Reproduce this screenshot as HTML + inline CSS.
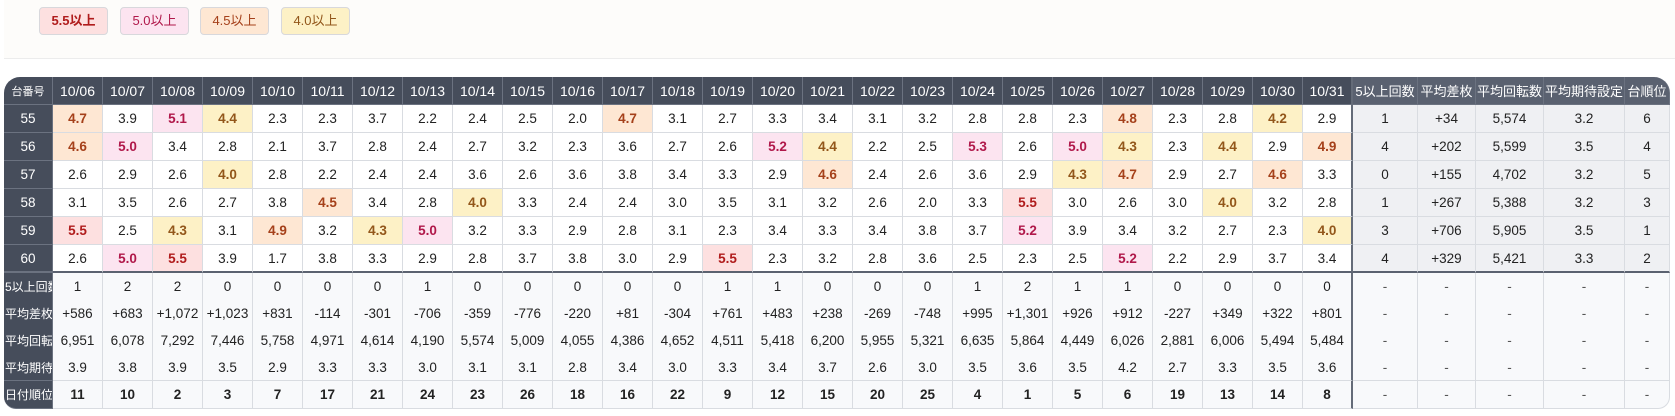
<!DOCTYPE html>
<html><head><meta charset="utf-8"><style>
*{margin:0;padding:0;box-sizing:border-box}
body{width:1675px;height:416px;background:#fff;font-family:"Liberation Sans","Noto Sans CJK JP",sans-serif;color:#222;position:relative;overflow:hidden}
.top{position:absolute;left:4px;top:0;width:1671px;height:59px;background:#fdfcfa;border-bottom:1px solid #ececec}
.b{position:absolute;top:7px;height:28px;width:69px;border:1px solid #d8d8dc;border-radius:4px;font-size:13px;font-weight:bold;text-align:center;line-height:26px}
table{position:absolute;left:4px;top:77px;width:1666px;border-collapse:separate;border-spacing:0;table-layout:fixed;font-size:13px}
td,th{text-align:center;border-right:1px solid #d9dce1;border-bottom:1px solid #d9dce1;white-space:nowrap;overflow:hidden}
th{background:#464d5b;color:#fff;font-weight:normal;height:28px;border-color:#6b7280;font-size:14px}
th.h{font-size:13px;background:#5a6170}
th:first-child{border-top-left-radius:16px;font-size:11px}
th:last-child{border-top-right-radius:16px}
tr.d td{height:28px;background:#fff;font-size:13.5px}
tr.d td:first-child{background:#464d5b;color:#fff;border-color:#6b7280}
td.s{background:#eff0f3!important}
td.k{border-right:2px solid #646b78}
tr.d6 td{border-bottom:2px solid #5b6270}
tr.m td{height:27px;background:#f8f9fb;border-bottom:none;font-size:13.5px}
tr.m td:first-child,tr.rk td:first-child{background:#464d5b;color:#fff;font-size:12px;text-align:left;padding-left:1px;border-color:#6b7280}
tr.m4 td{border-bottom:1px solid #d9dce1}
tr.rk td{height:28px;background:#f8f9fb;font-weight:bold;font-size:13.5px}
tr.rk td.s,tr.m td.s{background:#f8f9fb!important;font-weight:normal;color:#555}
tr.rk td:first-child{border-bottom-left-radius:12px;font-weight:normal}
tr.rk td:last-child{border-bottom-right-radius:12px}
.r{background:#fde0e0!important;color:#b01c1c;font-weight:bold}
.p{background:#fce4f0!important;color:#b0184a;font-weight:bold}
.o{background:#fee7d3!important;color:#a5401a;font-weight:bold}
.y{background:#fdf1c6!important;color:#92561a;font-weight:bold}
</style></head><body>
<div class="top"></div>
<div class="b r" style="left:39px">5.5以上</div>
<div class="b p" style="left:120px;font-weight:normal">5.0以上</div>
<div class="b o" style="left:200px;font-weight:normal">4.5以上</div>
<div class="b y" style="left:281px;font-weight:normal">4.0以上</div>
<table>
<colgroup><col style="width:49px"><col span="26" style="width:50px"><col style="width:65px"><col style="width:58px"><col style="width:68px"><col style="width:81px"><col style="width:45px"></colgroup>
<tr><th>台番号</th><th>10/06</th><th>10/07</th><th>10/08</th><th>10/09</th><th>10/10</th><th>10/11</th><th>10/12</th><th>10/13</th><th>10/14</th><th>10/15</th><th>10/16</th><th>10/17</th><th>10/18</th><th>10/19</th><th>10/20</th><th>10/21</th><th>10/22</th><th>10/23</th><th>10/24</th><th>10/25</th><th>10/26</th><th>10/27</th><th>10/28</th><th>10/29</th><th>10/30</th><th style="border-right:2px solid #646b78">10/31</th><th class="h">5以上回数</th><th class="h">平均差枚</th><th class="h">平均回転数</th><th class="h">平均期待設定</th><th class="h">台順位</th></tr>
<tr class="d"><td>55</td><td class="o">4.7</td><td>3.9</td><td class="p">5.1</td><td class="y">4.4</td><td>2.3</td><td>2.3</td><td>3.7</td><td>2.2</td><td>2.4</td><td>2.5</td><td>2.0</td><td class="o">4.7</td><td>3.1</td><td>2.7</td><td>3.3</td><td>3.4</td><td>3.1</td><td>3.2</td><td>2.8</td><td>2.8</td><td>2.3</td><td class="o">4.8</td><td>2.3</td><td>2.8</td><td class="y">4.2</td><td class="k">2.9</td><td class="s">1</td><td class="s">+34</td><td class="s">5,574</td><td class="s">3.2</td><td class="s">6</td></tr>
<tr class="d"><td>56</td><td class="o">4.6</td><td class="p">5.0</td><td>3.4</td><td>2.8</td><td>2.1</td><td>3.7</td><td>2.8</td><td>2.4</td><td>2.7</td><td>3.2</td><td>2.3</td><td>3.6</td><td>2.7</td><td>2.6</td><td class="p">5.2</td><td class="y">4.4</td><td>2.2</td><td>2.5</td><td class="p">5.3</td><td>2.6</td><td class="p">5.0</td><td class="y">4.3</td><td>2.3</td><td class="y">4.4</td><td>2.9</td><td class="k o">4.9</td><td class="s">4</td><td class="s">+202</td><td class="s">5,599</td><td class="s">3.5</td><td class="s">4</td></tr>
<tr class="d"><td>57</td><td>2.6</td><td>2.9</td><td>2.6</td><td class="y">4.0</td><td>2.8</td><td>2.2</td><td>2.4</td><td>2.4</td><td>3.6</td><td>2.6</td><td>3.6</td><td>3.8</td><td>3.4</td><td>3.3</td><td>2.9</td><td class="o">4.6</td><td>2.4</td><td>2.6</td><td>3.6</td><td>2.9</td><td class="y">4.3</td><td class="o">4.7</td><td>2.9</td><td>2.7</td><td class="o">4.6</td><td class="k">3.3</td><td class="s">0</td><td class="s">+155</td><td class="s">4,702</td><td class="s">3.2</td><td class="s">5</td></tr>
<tr class="d"><td>58</td><td>3.1</td><td>3.5</td><td>2.6</td><td>2.7</td><td>3.8</td><td class="o">4.5</td><td>3.4</td><td>2.8</td><td class="y">4.0</td><td>3.3</td><td>2.4</td><td>2.4</td><td>3.0</td><td>3.5</td><td>3.1</td><td>3.2</td><td>2.6</td><td>2.0</td><td>3.3</td><td class="r">5.5</td><td>3.0</td><td>2.6</td><td>3.0</td><td class="y">4.0</td><td>3.2</td><td class="k">2.8</td><td class="s">1</td><td class="s">+267</td><td class="s">5,388</td><td class="s">3.2</td><td class="s">3</td></tr>
<tr class="d"><td>59</td><td class="r">5.5</td><td>2.5</td><td class="y">4.3</td><td>3.1</td><td class="o">4.9</td><td>3.2</td><td class="y">4.3</td><td class="p">5.0</td><td>3.2</td><td>3.3</td><td>2.9</td><td>2.8</td><td>3.1</td><td>2.3</td><td>3.4</td><td>3.3</td><td>3.4</td><td>3.8</td><td>3.7</td><td class="p">5.2</td><td>3.9</td><td>3.4</td><td>3.2</td><td>2.7</td><td>2.3</td><td class="k y">4.0</td><td class="s">3</td><td class="s">+706</td><td class="s">5,905</td><td class="s">3.5</td><td class="s">1</td></tr>
<tr class="d d6"><td>60</td><td>2.6</td><td class="p">5.0</td><td class="r">5.5</td><td>3.9</td><td>1.7</td><td>3.8</td><td>3.3</td><td>2.9</td><td>2.8</td><td>3.7</td><td>3.8</td><td>3.0</td><td>2.9</td><td class="r">5.5</td><td>2.3</td><td>3.2</td><td>2.8</td><td>3.6</td><td>2.5</td><td>2.3</td><td>2.5</td><td class="p">5.2</td><td>2.2</td><td>2.9</td><td>3.7</td><td class="k">3.4</td><td class="s">4</td><td class="s">+329</td><td class="s">5,421</td><td class="s">3.3</td><td class="s">2</td></tr>
<tr class="m"><td>5以上回数</td><td>1</td><td>2</td><td>2</td><td>0</td><td>0</td><td>0</td><td>0</td><td>1</td><td>0</td><td>0</td><td>0</td><td>0</td><td>0</td><td>1</td><td>1</td><td>0</td><td>0</td><td>0</td><td>1</td><td>2</td><td>1</td><td>1</td><td>0</td><td>0</td><td>0</td><td class="k">0</td><td class="s">-</td><td class="s">-</td><td class="s">-</td><td class="s">-</td><td class="s">-</td></tr>
<tr class="m"><td>平均差枚</td><td>+586</td><td>+683</td><td>+1,072</td><td>+1,023</td><td>+831</td><td>-114</td><td>-301</td><td>-706</td><td>-359</td><td>-776</td><td>-220</td><td>+81</td><td>-304</td><td>+761</td><td>+483</td><td>+238</td><td>-269</td><td>-748</td><td>+995</td><td>+1,301</td><td>+926</td><td>+912</td><td>-227</td><td>+349</td><td>+322</td><td class="k">+801</td><td class="s">-</td><td class="s">-</td><td class="s">-</td><td class="s">-</td><td class="s">-</td></tr>
<tr class="m"><td>平均回転数</td><td>6,951</td><td>6,078</td><td>7,292</td><td>7,446</td><td>5,758</td><td>4,971</td><td>4,614</td><td>4,190</td><td>5,574</td><td>5,009</td><td>4,055</td><td>4,386</td><td>4,652</td><td>4,511</td><td>5,418</td><td>6,200</td><td>5,955</td><td>5,321</td><td>6,635</td><td>5,864</td><td>4,449</td><td>6,026</td><td>2,881</td><td>6,006</td><td>5,494</td><td class="k">5,484</td><td class="s">-</td><td class="s">-</td><td class="s">-</td><td class="s">-</td><td class="s">-</td></tr>
<tr class="m m4"><td>平均期待設定</td><td>3.9</td><td>3.8</td><td>3.9</td><td>3.5</td><td>2.9</td><td>3.3</td><td>3.3</td><td>3.0</td><td>3.1</td><td>3.1</td><td>2.8</td><td>3.4</td><td>3.0</td><td>3.3</td><td>3.4</td><td>3.7</td><td>2.6</td><td>3.0</td><td>3.5</td><td>3.6</td><td>3.5</td><td>4.2</td><td>2.7</td><td>3.3</td><td>3.5</td><td class="k">3.6</td><td class="s">-</td><td class="s">-</td><td class="s">-</td><td class="s">-</td><td class="s">-</td></tr>
<tr class="rk"><td>日付順位</td><td>11</td><td>10</td><td>2</td><td>3</td><td>7</td><td>17</td><td>21</td><td>24</td><td>23</td><td>26</td><td>18</td><td>16</td><td>22</td><td>9</td><td>12</td><td>15</td><td>20</td><td>25</td><td>4</td><td>1</td><td>5</td><td>6</td><td>19</td><td>13</td><td>14</td><td class="k">8</td><td class="s">-</td><td class="s">-</td><td class="s">-</td><td class="s">-</td><td class="s">-</td></tr>
</table>
</body></html>
